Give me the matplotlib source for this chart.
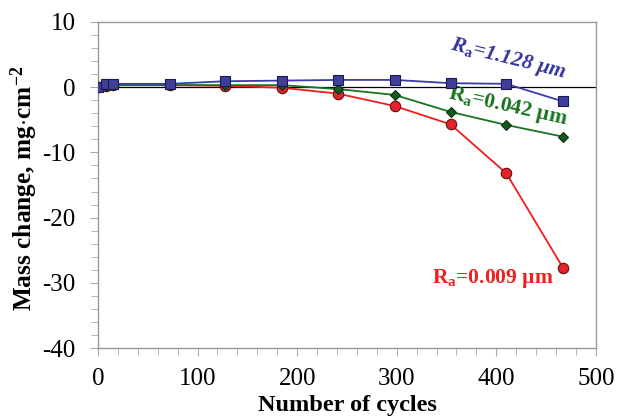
import matplotlib
matplotlib.use("Agg")
import matplotlib.pyplot as plt
from matplotlib.ticker import MultipleLocator

cycles = [0, 8, 15, 72, 128, 185, 241, 298, 354, 410, 467]
ra_1128 = [0, 0.4, 0.5, 0.5, 0.9, 1.0, 1.1, 1.1, 0.6, 0.5, -2.2]
ra_0042 = [0, 0.2, 0.3, 0.3, 0.3, 0.3, -0.3, -1.2, -3.8, -5.8, -7.6]
ra_0009 = [0, 0.2, 0.3, 0.3, 0.2, -0.1, -1.0, -2.9, -5.7, -13.2, -27.7]

plt.rcParams['font.family'] = ['Liberation Serif', 'DejaVu Serif']
plt.rcParams['axes.unicode_minus'] = False
plt.rcParams['mathtext.fontset'] = 'custom'
plt.rcParams['mathtext.rm'] = 'Liberation Serif:bold'
plt.rcParams['mathtext.it'] = 'Liberation Serif:bold:italic'
plt.rcParams['mathtext.bf'] = 'Liberation Serif:bold'

fig = plt.figure(figsize=(6.36, 4.2), dpi=100)
ax = fig.add_axes([0.154, 0.171, 0.783, 0.777])

ax.axhline(0, color='black', lw=0.9, zorder=1)
ax.plot(cycles, ra_0009, color='#f01c1c', lw=1.3, marker='o', ms=7.5,
        mfc='#e8202a', mec='#5a1010', mew=0.8, zorder=3)
ax.plot(cycles, ra_0042, color='#17751f', lw=1.3, marker='D', ms=5.5,
        mfc='#145a1e', mec='#0a300e', mew=0.8, zorder=4)
ax.plot(cycles, ra_1128, color='#3c3ca8', lw=1.3, marker='s', ms=7.5,
        mfc='#3f3f9a', mec='#1a1a50', mew=0.8, zorder=5)

ax.set_xlim(0, 500)
ax.set_ylim(-40, 10)
ax.xaxis.set_major_locator(MultipleLocator(100))
ax.xaxis.set_minor_locator(MultipleLocator(20))
ax.yaxis.set_major_locator(MultipleLocator(10))
ax.yaxis.set_minor_locator(MultipleLocator(2))
ax.tick_params(which='both', direction='out', color='#aaaaaa', labelsize=18)
ax.tick_params(which='major', length=6)
ax.tick_params(which='minor', length=5)
ax.tick_params(axis='x', pad=8)
ax.tick_params(axis='y', pad=10)
for s in ax.spines.values():
    s.set_color('#999999')
    s.set_linewidth(1.0)

ax.set_xlabel('Number of cycles', fontsize=17.5, fontweight='bold', labelpad=4)
ax.set_ylabel(r'Mass change, mg$\cdot$cm$^{-2}$', fontsize=18.3, fontweight='bold',
              labelpad=2, y=0.49)

ax.text(412, 4.3, r'$\mathit{R}_{\mathrm{a}}$=1.128 µm', color='#33339a',
        fontsize=15.5, fontweight='bold', style='italic', rotation=-14, ha='center', va='center')
ax.text(412, -3.0, r'R$_{\mathrm{a}}$=0.042 µm', color='#17751f',
        fontsize=15.5, fontweight='bold', rotation=-12.5, ha='center', va='center')
ax.text(396, -29.4, r'R$_{\mathrm{a}}$=0.009 µm', color='#ee2020',
        fontsize=15.5, fontweight='bold', ha='center', va='center')

fig.savefig('out.png', dpi=100)
